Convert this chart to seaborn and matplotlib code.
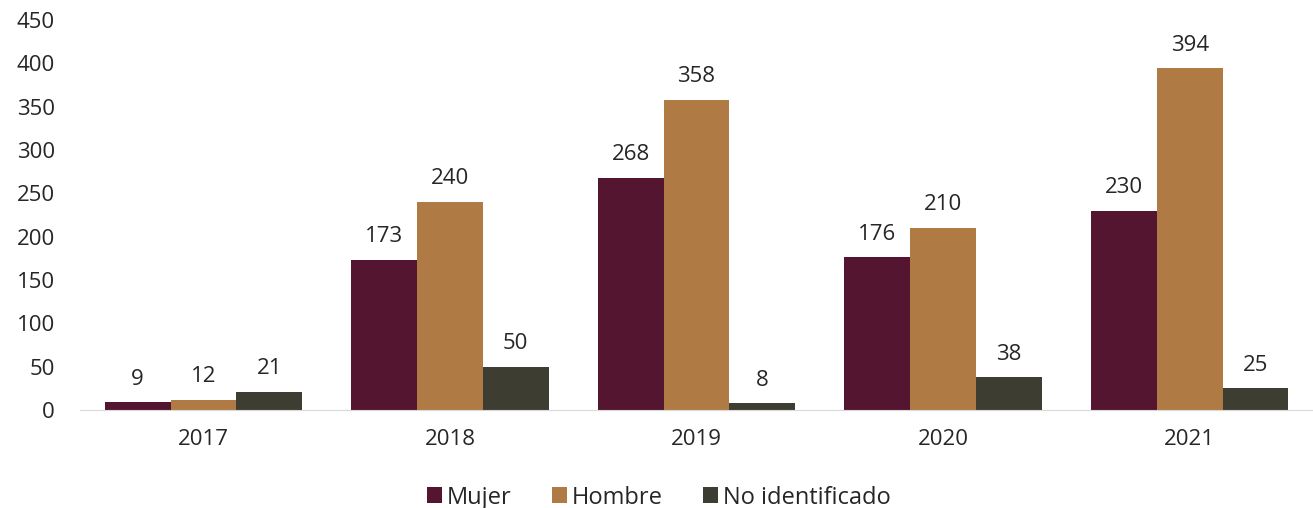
import pandas as pd
import matplotlib.pyplot as plt
import seaborn as sns

years = ['2017', '2018', '2019', '2020', '2021']
mujer = [9, 173, 268, 176, 230]
hombre = [12, 240, 358, 210, 394]
no_ident = [21, 50, 8, 38, 25]
series = ['Mujer', 'Hombre', 'No identificado']
colores = ['#541530', '#B07A45', '#3D3D31']

df = pd.DataFrame({
    'anio': years * 3,
    'valor': mujer + hombre + no_ident,
    'sexo': [s for s in series for _ in years],
})

sns.set_style('white')
plt.rcParams['font.family'] = ['Open Sans', 'DejaVu Sans']

fig = plt.figure(figsize=(13.13, 5.08), dpi=100)
ax = fig.add_axes([0.061, 0.193, 0.939, 0.768])
sns.barplot(data=df, x='anio', y='valor', hue='sexo', palette=colores,
            width=0.8, saturation=1, linewidth=0, ax=ax, legend=True)

for cont in ax.containers:
    ax.bar_label(cont, padding=9, fontsize=16, color='#262626')

ax.set_ylim(0, 450)
ax.set_yticks(range(0, 451, 50))
ax.set_xlim(-0.5, 4.5)
ax.set_xlabel('')
ax.set_ylabel('')
ax.tick_params(axis='both', labelsize=16, colors='#262626', length=0)
ax.tick_params(axis='x', pad=14)
ax.tick_params(axis='y', pad=18)
for s in ['top', 'right', 'left']:
    ax.spines[s].set_visible(False)
ax.spines['bottom'].set_color('#D9D9D9')
ax.grid(False)

ax.legend(loc='lower center', bbox_to_anchor=(0.5 - 0.061 / 2, -0.31),
          ncol=3, frameon=False, fontsize=17, handlelength=0.65,
          handleheight=0.65, handletextpad=0.2, columnspacing=1.7,
          labelcolor='#262626')

plt.savefig('out.png', dpi=100)
